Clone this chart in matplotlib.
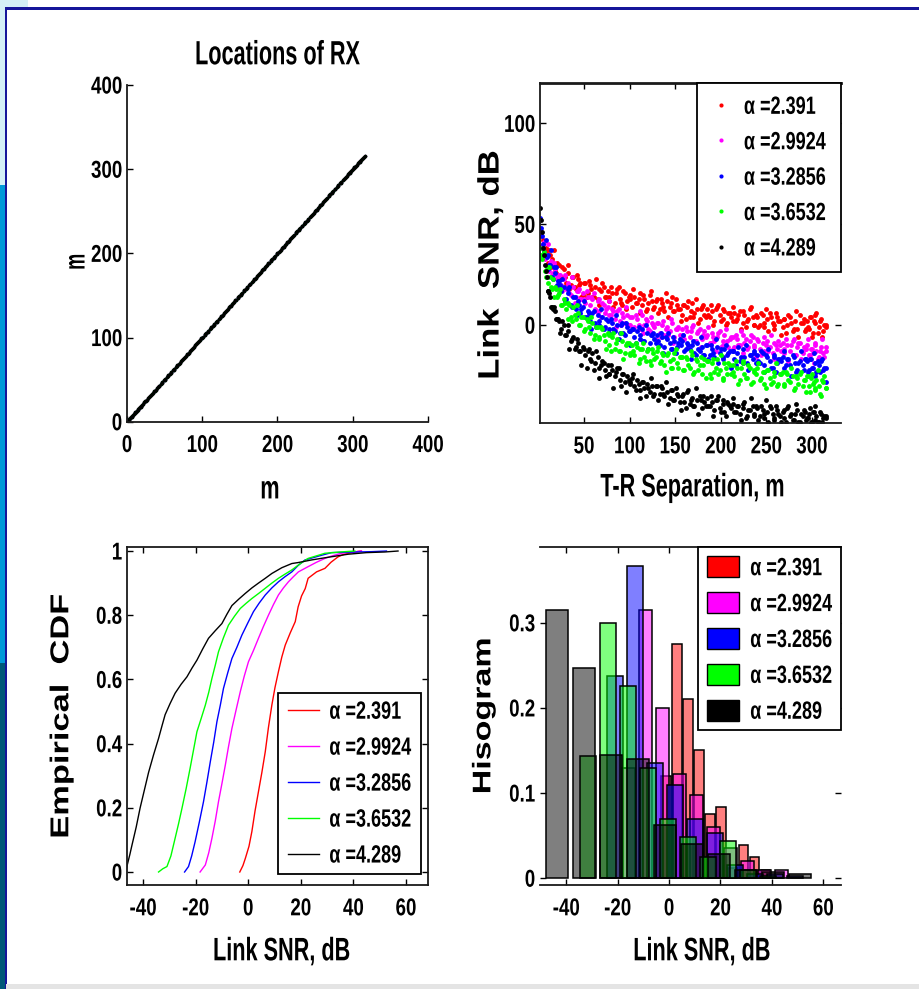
import matplotlib
matplotlib.use("Agg")
import matplotlib.pyplot as plt
from matplotlib.patches import Rectangle, Patch
from matplotlib.lines import Line2D
from matplotlib.patheffects import AbstractPathEffect
from matplotlib.transforms import Affine2D

FONT = ['Liberation Sans', 'DejaVu Sans']
plt.rcParams['font.family'] = FONT
plt.rcParams['font.weight'] = 'bold'
plt.rcParams['axes.unicode_minus'] = False

W, H = 920, 989

labels = ['α =2.391', 'α =2.9924', 'α =3.2856', 'α =3.6532', 'α =4.289']
colors = ['#ff0000', '#ff00ff', '#0000ff', '#00ff00', '#000000']

# T-R separation of each receiver (m), same receivers for every alpha
sep_a = [2, 4, 5, 7, 9, 11, 13, 15, 18, 20,
         23, 25, 28, 30, 33, 36, 38, 41, 43, 46,
         49, 51, 54, 57, 59, 62, 65, 67, 70, 73,
         76, 78, 81, 84, 86, 89, 92, 95, 97, 100,
         103, 105, 108, 111, 114, 116, 119, 122, 125, 127,
         130, 133, 136, 138, 141, 144, 147, 149, 152, 155,
         158, 160, 163, 166, 169, 171, 174, 177, 180, 182,
         185, 188, 191, 193, 196, 199, 202, 204, 207, 210,
         213, 215, 218, 221, 224, 226, 229, 232, 235, 237,
         240, 243, 246, 248, 251, 254, 257, 259, 262, 265,
         268, 270, 273, 276, 279, 281, 284, 287, 290, 292,
         295, 297, 299, 301, 303, 305, 308, 310, 312, 315]
sep_b = [3, 6, 8, 10, 12, 14, 16, 17, 19, 21,
         24, 26, 29, 32, 34, 37, 40, 42, 45, 47,
         50, 53, 55, 58, 61, 63, 66, 69, 72, 74,
         77, 80, 82, 85, 88, 91, 93, 96, 99, 101,
         104, 107, 110, 112, 115, 118, 120, 123, 126, 129,
         131, 134, 137, 140, 142, 145, 148, 151, 153, 156,
         159, 162, 164, 167, 170, 173, 175, 178, 181, 184,
         186, 189, 192, 195, 197, 200, 203, 206, 208, 211,
         214, 217, 219, 222, 225, 228, 230, 233, 236, 239,
         241, 244, 247, 250, 252, 255, 258, 261, 263, 266,
         269, 272, 274, 277, 280, 283, 285, 288, 291, 294,
         296, 298, 300, 302, 304, 307, 309, 311, 313, 316]

# link SNR (dB) per receiver, receivers at sep_a
snr_red_a = [44, 39, 42, 36, 37, 31, 35, 33, 27, 31,
             30, 24, 28, 21, 26, 20, 24, 18, 23, 21,
             15, 21, 16, 20, 14, 19, 13, 18, 21, 14,
             17, 12, 16, 11, 18, 13, 10, 16, 12, 15,
             9, 14, 11, 16, 10, 13, 8, 15, 12, 9,
             13, 8, 11, 7, 12, 9, 14, 7, 10, 8,
             5, 10, 9, 4, 11, 6, 8, 3, 9, 5,
             8, 4, 7, 2, 9, 5, 3, 7, 1, 6,
             2, 6, 3, 7, 1, 5, 2, 8, 4, 0,
             4, 0, 5, -1, 3, 6, 1, -2, 4, 2,
             -1, 3, 0, 4, -3, 2, -2, 5, 1, -3,
             2, -2, 4, -4, 1, 6, -1, 3, -3, 0]
snr_magenta_a = [46, 38, 40, 33, 35, 29, 31, 25, 28, 23,
                 25, 20, 23, 18, 21, 15, 19, 14, 17, 13,
                 16, 11, 14, 10, 13, 8, 12, 7, 11, 6,
                 9, 5, 8, 3, 7, 2, 6, 1, 5, 0,
                 4, -1, 3, -2, 5, 0, 2, -3, 1, -1,
                 1, -4, 0, -5, -1, -3, 1, -6, -2, -5,
                 -2, -7, -3, -6, -1, -8, -4, -2, -7, -3,
                 -5, -9, -4, -8, -6, -3, -10, -5, -8, -7,
                 -6, -11, -7, -10, -5, -9, -12, -8, -6, -11,
                 -7, -12, -9, -13, -8, -11, -14, -9, -12, -10,
                 -9, -14, -10, -13, -8, -15, -11, -9, -14, -12,
                 -10, -15, -12, -14, -9, -13, -16, -11, -14, -13]
snr_blue_a = [53, 44, 40, 35, 34, 28, 30, 24, 26, 20,
              22, 17, 19, 13, 16, 10, 14, 8, 12, 6,
              9, 4, 7, 2, 6, 1, 5, 0, 4, -1,
              2, -2, 1, -3, 0, -4, 1, -5, -1, -3,
              -2, -6, -3, -7, -2, -8, -4, -9, -5, -7,
              -5, -10, -6, -11, -7, -9, -12, -8, -11, -7,
              -8, -13, -9, -12, -10, -14, -9, -13, -11, -15,
              -10, -15, -12, -16, -11, -14, -17, -12, -15, -13,
              -13, -17, -14, -18, -12, -16, -19, -15, -17, -14,
              -15, -19, -14, -20, -16, -18, -21, -16, -19, -17,
              -16, -21, -17, -20, -15, -19, -22, -18, -20, -17,
              -18, -22, -17, -21, -19, -23, -20, -18, -22, -21]
snr_green_a = [38, 33, 35, 27, 29, 21, 24, 18, 19, 14,
               16, 10, 13, 8, 11, 4, 9, 3, 6, 0,
               4, -2, 2, -4, 1, -5, -1, -7, -2, -8,
               -4, -10, -6, -12, -7, -13, -8, -14, -9, -15,
               -10, -15, -11, -17, -12, -16, -13, -18, -12, -17,
               -13, -19, -14, -20, -15, -18, -21, -14, -19, -16,
               -16, -22, -17, -21, -15, -23, -18, -20, -24, -17,
               -18, -24, -19, -23, -17, -22, -26, -19, -24, -20,
               -20, -25, -21, -27, -19, -24, -26, -21, -28, -22,
               -21, -27, -23, -29, -22, -26, -28, -23, -30, -24,
               -23, -29, -24, -28, -25, -31, -26, -24, -30, -27,
               -25, -30, -26, -29, -32, -27, -30, -35, -28, -31]
snr_black_a = [58, 46, 38, 30, 24, 17, 14, 9, 7, 3,
               2, -2, 0, -5, -3, -8, -6, -11, -9, -13,
               -11, -15, -13, -17, -14, -19, -16, -21, -18, -22,
               -20, -24, -22, -25, -21, -27, -24, -28, -25, -29,
               -26, -30, -27, -32, -28, -31, -29, -33, -30, -34,
               -30, -34, -31, -35, -33, -36, -32, -37, -34, -38,
               -35, -38, -33, -39, -36, -40, -37, -35, -41, -38,
               -36, -40, -38, -42, -37, -41, -39, -43, -38, -40,
               -39, -43, -40, -44, -41, -38, -45, -42, -40, -44,
               -41, -45, -42, -46, -43, -40, -44, -47, -42, -45,
               -43, -46, -41, -45, -47, -44, -42, -48, -45, -43,
               -46, -44, -48, -43, -47, -45, -48, -44, -46, -45]

# receivers at sep_b
snr_red_b = [46, 37, 38, 29, 37, 29, 31, 37, 26, 30,
             23, 29, 24, 30, 18, 24, 19, 25, 20, 14,
             21, 14, 22, 18, 14, 23, 10, 17, 19, 14,
             14, 19, 9, 16, 19, 11, 17, 8, 14, 13,
             18, 11, 13, 6, 15, 7, 11, 17, 8, 12,
             6, 13, 9, 16, 4, 11, 7, 13, 8, 2,
             10, 3, 12, 7, 4, 13, 1, 8, 10, 4,
             5, 10, 0, 8, 10, 2, 8, 0, 6, 4,
             9, 2, 5, -2, 7, -1, 3, 9, 0, 5,
             -1, 6, 1, 8, -3, 4, 0, 6, 2, -5,
             3, -4, 5, 1, -2, 7, -6, 1, 3, -2,
             -1, 4, -6, 2, 5, -4, 2, -6, 0, -1]
snr_magenta_b = [38, 41, 35, 40, 27, 32, 26, 31, 25, 18,
                 25, 17, 25, 20, 16, 24, 11, 17, 18, 13,
                 13, 17, 6, 14, 16, 7, 13, 4, 10, 8,
                 12, 5, 7, -1, 8, 0, 4, 9, 0, 4,
                 -2, 5, 0, 7, -4, 3, -2, 4, 0, -7,
                 1, -6, 2, -2, -5, 3, -9, -2, -1, -6,
                 -5, -1, -11, -3, 0, -8, -3, -11, -5, -6,
                 -1, -9, -6, -13, -4, -11, -8, -2, -11, -6,
                 -12, -5, -10, -3, -14, -7, -11, -5, -10, -16,
                 -8, -15, -6, -10, -13, -5, -17, -10, -8, -13,
                 -12, -7, -18, -10, -7, -15, -9, -17, -11, -12,
                 -7, -15, -12, -19, -10, -17, -13, -7, -16, -11]
snr_blue_b = [48, 36, 42, 35, 30, 37, 23, 29, 29, 22,
              20, 23, 12, 18, 19, 9, 14, 5, 10, 8,
              12, 4, 6, -2, 7, -1, 2, 8, -2, 3,
              -4, 3, -2, 5, -7, 0, -4, 1, -3, -10,
              -2, -9, -1, -5, -8, 0, -12, -5, -4, -9,
              -8, -4, -14, -6, -4, -12, -6, -14, -9, -10,
              -5, -12, -10, -17, -8, -15, -12, -6, -15, -10,
              -17, -10, -14, -7, -19, -12, -16, -10, -14, -21,
              -13, -20, -11, -16, -19, -10, -22, -15, -13, -19,
              -18, -13, -23, -15, -12, -21, -15, -23, -17, -18,
              -13, -20, -17, -25, -16, -23, -19, -13, -22, -17,
              -23, -17, -21, -14, -25, -18, -23, -17, -21, -28]
snr_green_b = [35, 36, 24, 29, 29, 19, 23, 14, 18, 15,
               18, 10, 11, 3, 10, 2, 5, 10, 0, 4,
               -3, 3, -1, 4, -7, -1, -6, -1, -5, -12,
               -5, -13, -4, -9, -13, -4, -17, -10, -9, -14,
               -13, -9, -19, -12, -9, -18, -12, -20, -14, -16,
               -11, -18, -15, -23, -14, -21, -17, -12, -21, -16,
               -22, -16, -20, -13, -24, -17, -22, -16, -20, -26,
               -18, -26, -17, -21, -24, -15, -27, -21, -19, -24,
               -23, -18, -29, -21, -18, -26, -20, -29, -23, -24,
               -19, -26, -23, -31, -22, -29, -25, -19, -29, -24,
               -30, -23, -27, -21, -32, -25, -29, -23, -27, -33,
               -25, -33, -24, -28, -31, -22, -34, -27, -25, -31]
snr_black_b = [52, 35, 27, 17, 16, 9, 8, 9, 3, 3,
               -4, 2, -5, 0, -12, -7, -12, -7, -13, -20,
               -12, -21, -12, -18, -22, -13, -26, -20, -19, -25,
               -24, -20, -31, -23, -21, -30, -24, -33, -27, -28,
               -24, -32, -29, -36, -28, -35, -31, -26, -35, -30,
               -37, -30, -34, -28, -39, -32, -37, -31, -35, -42,
               -34, -41, -32, -37, -40, -31, -44, -37, -35, -40,
               -40, -35, -45, -37, -35, -43, -37, -45, -39, -41,
               -36, -43, -40, -47, -39, -46, -42, -36, -45, -40,
               -47, -40, -44, -37, -48, -41, -46, -40, -44, -48,
               -42, -48, -40, -44, -47, -39, -48, -44, -42, -47,
               -46, -41, -48, -43, -40, -48, -43, -48, -45, -46]
snr_a = [snr_red_a, snr_magenta_a, snr_blue_a, snr_green_a, snr_black_a]
snr_b = [snr_red_b, snr_magenta_b, snr_blue_b, snr_green_b, snr_black_b]

# empirical CDF curves
cdf_x_red = [-3.2, -2.0, -1.1, 0.3, 1.4, 2.6, 3.9, 5.2, 6.5, 7.7, 9.0, 10.2, 11.5, 12.8, 14.1,
             16.0, 17.9, 19.0, 20.3, 21.7, 22.8, 26.0, 29.2, 31.5, 34.2, 36.5, 39.3, 41.3, 43.0]
cdf_p_red = [0.0, 0.02, 0.042, 0.08, 0.126, 0.19, 0.25, 0.31, 0.375, 0.45, 0.52, 0.575, 0.624, 0.67, 0.707,
             0.745, 0.78, 0.826, 0.86, 0.883, 0.915, 0.935, 0.946, 0.965, 0.982, 0.99, 0.995, 0.998, 1.0]
cdf_x_magenta = [-18.3, -16.3, -15.0, -13.8, -12.5, -11.3, -10.0, -8.7, -7.5, -6.2, -4.6, -3.0, -1.5, 0.1,
                 2.0, 3.9, 5.8, 7.7, 9.6, 11.5, 13.4, 15.3, 17.2, 19.1, 22.5, 26.0, 29.2, 32.0, 35.5, 39.0, 43.1]
cdf_p_magenta = [0.0, 0.022, 0.06, 0.105, 0.16, 0.219, 0.275, 0.333, 0.39, 0.447, 0.505, 0.562, 0.61, 0.655,
                 0.69, 0.728, 0.765, 0.8, 0.833, 0.863, 0.885, 0.904, 0.92, 0.935, 0.95, 0.965, 0.977, 0.985,
                 0.993, 0.996, 1.0]
cdf_x_blue = [-24.2, -22.7, -21.5, -20.2, -18.6, -17.0, -15.7, -14.4, -13.1, -11.9, -10.6, -9.4, -7.8, -6.2,
              -4.3, -2.4, -0.2, 2.0, 4.2, 6.5, 9.0, 11.5, 14.0, 16.6, 19.0, 21.6, 25.0, 28.0, 31.7, 36.0,
              41.3, 47.0, 52.6]
cdf_p_blue = [0.0, 0.017, 0.05, 0.094, 0.155, 0.219, 0.28, 0.344, 0.405, 0.468, 0.52, 0.572, 0.62, 0.665,
              0.7, 0.738, 0.775, 0.811, 0.838, 0.863, 0.885, 0.904, 0.92, 0.935, 0.955, 0.972, 0.98, 0.987,
              0.995, 0.996, 0.997, 0.998, 1.0]
cdf_x_green = [-34.1, -32.5, -30.9, -29.4, -27.8, -26.5, -25.2, -23.6, -22.1, -20.8, -19.5, -17.9, -16.3,
               -15.0, -13.8, -12.5, -11.3, -9.4, -7.5, -5.2, -3.0, -0.8, 1.4, 4.0, 6.5, 9.0, 11.5, 14.0,
               16.6, 19.7, 22.8, 26.0, 29.2, 35.0, 40.6]
cdf_p_green = [0.0, 0.01, 0.017, 0.05, 0.105, 0.15, 0.198, 0.26, 0.323, 0.38, 0.437, 0.478, 0.52, 0.56,
               0.603, 0.645, 0.686, 0.73, 0.769, 0.797, 0.821, 0.837, 0.852, 0.868, 0.884, 0.9, 0.915,
               0.928, 0.941, 0.96, 0.977, 0.985, 0.993, 0.997, 1.0]
cdf_x_black = [-46.5, -46.0, -45.0, -44.2, -42.6, -41.1, -39.5, -37.9, -36.0, -34.1, -32.8, -31.6, -29.7,
               -27.8, -25.5, -23.3, -21.4, -19.5, -17.3, -15.1, -12.5, -10.0, -8.1, -6.2, -3.6, -1.1, 1.4,
               3.9, 6.5, 9.0, 12.8, 16.6, 19.0, 24.0, 30.0, 38.0, 45.0, 52.0, 57.0]
cdf_p_black = [0.003, 0.022, 0.055, 0.084, 0.14, 0.2, 0.255, 0.31, 0.365, 0.416, 0.455, 0.49, 0.525,
               0.557, 0.585, 0.608, 0.635, 0.66, 0.695, 0.728, 0.752, 0.774, 0.803, 0.83, 0.85, 0.868, 0.885,
               0.9, 0.915, 0.93, 0.948, 0.961, 0.964, 0.972, 0.98, 0.99, 0.995, 0.997, 1.0]
cdf_x = [cdf_x_red, cdf_x_magenta, cdf_x_blue, cdf_x_green, cdf_x_black]
cdf_p = [cdf_p_red, cdf_p_magenta, cdf_p_blue, cdf_p_green, cdf_p_black]

# histogram bars (10 bins per alpha): centres, heights, bar width
hist_c_red = [-1.2, 3.1, 7.4, 11.7, 16.0, 20.3, 24.6, 28.9, 33.2, 37.5]
hist_h_red = [0.12, 0.275, 0.21, 0.15, 0.075, 0.084, 0.012, 0.039, 0.025, 0.01]
hist_c_magenta = [-15.8, -9.1, -2.5, 4.1, 10.7, 17.3, 23.9, 30.5, 37.1, 43.7]
hist_h_magenta = [0.13, 0.315, 0.2, 0.122, 0.098, 0.06, 0.035, 0.02, 0.01, 0.01]
hist_c_blue = [-21.0, -13.2, -5.4, 2.3, 10.1, 17.9, 25.7, 33.5, 41.2, 49.0]
hist_h_blue = [0.237, 0.367, 0.135, 0.11, 0.07, 0.053, 0.015, 0.005, 0.005, 0.003]
hist_c_green = [-31.5, -23.7, -15.9, -8.2, -0.4, 7.4, 15.2, 23.0, 30.7, 38.5]
hist_h_green = [0.144, 0.30, 0.226, 0.13, 0.07, 0.048, 0.025, 0.044, 0.01, 0.003]
hist_c_black = [-43.6, -33.1, -22.6, -12.1, -1.6, 8.9, 19.4, 29.9, 40.4, 50.9]
hist_h_black = [0.315, 0.247, 0.145, 0.14, 0.063, 0.04, 0.028, 0.01, 0.007, 0.005]
hist_c = [hist_c_red, hist_c_magenta, hist_c_blue, hist_c_green, hist_c_black]
hist_h = [hist_h_red, hist_h_magenta, hist_h_blue, hist_h_green, hist_h_black]
hist_w = [3.7, 5.2, 6.2, 6.0, 8.6]


class Stretch(AbstractPathEffect):
    """Scale glyphs across their baseline (the screenshot text is tall and narrow)."""

    def __init__(self, sy):
        super().__init__()
        self.sy = sy

    def draw_path(self, renderer, gc, tpath, affine, rgbFace=None):
        mid = 36.0  # half cap height in text-path units
        t = Affine2D().translate(0, -mid).scale(1, self.sy).translate(0, mid) + affine
        renderer.draw_path(gc, tpath, t, rgbFace)


TICK_SIZE, TICK_SY = 13.5, 1.3
LEG_SIZE, LEG_SY = 13, 1.38

fig = plt.figure(figsize=(W / 100, H / 100), dpi=100)
fig.patch.set_facecolor('white')


def px_box(l, t, r, b):
    return [l / W, 1 - b / H, (r - l) / W, (b - t) / H]


def deco(l, t, r, b, c):
    fig.add_artist(Rectangle((l / W, 1 - b / H), (r - l) / W, (b - t) / H,
                             transform=fig.transFigure, fc=c, ec='none', lw=0))


# slide frame
deco(0, 0, 28, 8, '#d4f0f6')
deco(0, 0, 5, 185, '#d4f0f6')
deco(0, 185, 5, 663, '#0099d8')
deco(0, 663, 5, 989, '#005878')
deco(4.5, 7.5, 6.5, 989, '#16169a')
deco(4.5, 7.5, 920, 9.5, '#16169a')
deco(6.5, 984, 920, 989, '#e4e4e4')


def style(ax, hide=(), top=True, right=True):
    for s in ax.spines.values():
        s.set_linewidth(1.3)
        s.set_color('#1a1a1a')
    for s in hide:
        ax.spines[s].set_visible(False)
    ax.tick_params(direction='in', length=4, width=1, labelsize=TICK_SIZE, top=top, right=right)
    ax.tick_params(axis='x', pad=11)
    ax.tick_params(axis='y', pad=3.5)


def ylab(ax, text, x, y, size, sy):
    ax.set_ylabel(text, fontsize=size, fontweight='bold')
    ax.yaxis.label.set_va('center')
    ax.yaxis.label.set_path_effects([Stretch(sy)])
    ax.yaxis.set_label_coords(x, y)


def xlab(ax, text, x, y):
    ax.set_xlabel(text, fontsize=15.6, fontweight='bold')
    ax.xaxis.label.set_va('center')
    ax.xaxis.label.set_path_effects([Stretch(1.5)])
    ax.xaxis.set_label_coords(x, y)


def leg(ax, handles, loc, anchor, **kw):
    lg = ax.legend(handles, labels, loc=loc, bbox_to_anchor=anchor, borderaxespad=0,
                   fancybox=False, framealpha=1, edgecolor='black',
                   prop={'weight': 'bold', 'size': LEG_SIZE}, **kw)
    lg.get_frame().set_linewidth(1.3)
    for t in lg.get_texts():
        t.set_path_effects([Stretch(LEG_SY)])
    return lg


# --- locations of RX
ax1 = fig.add_axes(px_box(127, 85, 428, 421.7))
for c in colors:
    ax1.plot(sep_a + sep_b, sep_a + sep_b, '.', color=c, ms=3.0)
ax1.set_xlim(0, 400)
ax1.set_ylim(0, 400)
ax1.set_xticks([0, 100, 200, 300, 400])
ax1.set_yticks([0, 100, 200, 300, 400])
style(ax1, hide=('top', 'right'), top=False, right=False)
title = ax1.set_title('Locations of RX', fontsize=15.6, fontweight='bold', pad=18)
title.set_path_effects([Stretch(1.55)])
xlab(ax1, 'm', 0.475, -0.2)
ylab(ax1, 'm', -0.169, 0.475, 13, 1.6)

# --- link SNR vs separation
ax2 = fig.add_axes(px_box(540, 83, 841, 423))
for sa, sb, c in zip(snr_a, snr_b, colors):
    ax2.plot(sep_a + sep_b, sa + sb, 'o', color=c, ms=3.5, mec='none')
ax2.set_xlim(1.75, 332)
ax2.set_ylim(-48.5, 120)
ax2.set_xticks([50, 100, 150, 200, 250, 300])
ax2.set_yticks([0, 50, 100])
style(ax2, hide=('right',))
ax2.spines['top'].set_linewidth(2)
xlab(ax2, 'T-R Separation, m', 0.507, -0.188)
ylab(ax2, 'Link  SNR, dB', -0.163, 0.465, 25, 0.85)
dots = [Line2D([], [], marker='o', ls='none', color=c, ms=3, mec='none') for c in colors]
leg(ax2, dots, 'upper right', (1, 1), handlelength=1.0, handletextpad=0.75,
    borderpad=0.85, labelspacing=1.02)

# --- empirical CDF
ax3 = fig.add_axes(px_box(127, 547, 428, 885))
for xs, ps, c in zip(cdf_x, cdf_p, colors):
    ax3.plot(xs, ps, '-', color=c, lw=1.0)
ax3.set_xlim(-46.1, 68.4)
ax3.set_ylim(-0.0405, 1.0125)
ax3.set_xticks([-40, -20, 0, 20, 40, 60])
ax3.set_yticks([0, 0.2, 0.4, 0.6, 0.8, 1])
ax3.set_yticklabels(['0', '0.2', '0.4', '0.6', '0.8', '1'])
style(ax3)
xlab(ax3, 'Link SNR, dB', 0.514, -0.195)
ylab(ax3, 'Empirical  CDF', -0.213, 0.5, 24.8, 0.75)
lines = [Line2D([], [], color=c, lw=1.0) for c in colors]
leg(ax3, lines, 'lower right', ((421 - 127) / 301, (885 - 874) / 338), handlelength=1.75,
    handletextpad=0.55, borderpad=0.55, labelspacing=1.05)

# --- histogram
ax4 = fig.add_axes(px_box(540, 547, 841, 885))
for cs, hs, w, c in zip(hist_c, hist_h, hist_w, colors):
    ax4.bar(cs, hs, width=w, color=matplotlib.colors.to_rgba(c, 0.5),
            edgecolor='black', linewidth=1.1)
ax4.set_xlim(-50.2, 66.9)
ax4.set_ylim(-0.008, 0.389)
ax4.set_xticks([-40, -20, 0, 20, 40, 60])
ax4.set_yticks([0, 0.1, 0.2, 0.3])
ax4.set_yticklabels(['0', '0.1', '0.2', '0.3'])
style(ax4, hide=('left', 'right'))
xlab(ax4, 'Link SNR, dB', 0.538, -0.195)
ylab(ax4, 'Hisogram', -0.183, 0.5, 24.5, 0.75)
boxes = [Patch(facecolor=c, edgecolor='black', linewidth=1.0) for c in colors]
leg(ax4, boxes, 'upper right', (1, 1), handlelength=1.8, handleheight=1.45,
    handletextpad=0.6, borderpad=0.5, labelspacing=0.8)

fig.canvas.draw()
for ax in (ax1, ax2, ax3, ax4):
    for lab in ax.get_xticklabels() + ax.get_yticklabels():
        lab.set_path_effects([Stretch(TICK_SY)])

fig.savefig('out.png', dpi=100, facecolor='white')
